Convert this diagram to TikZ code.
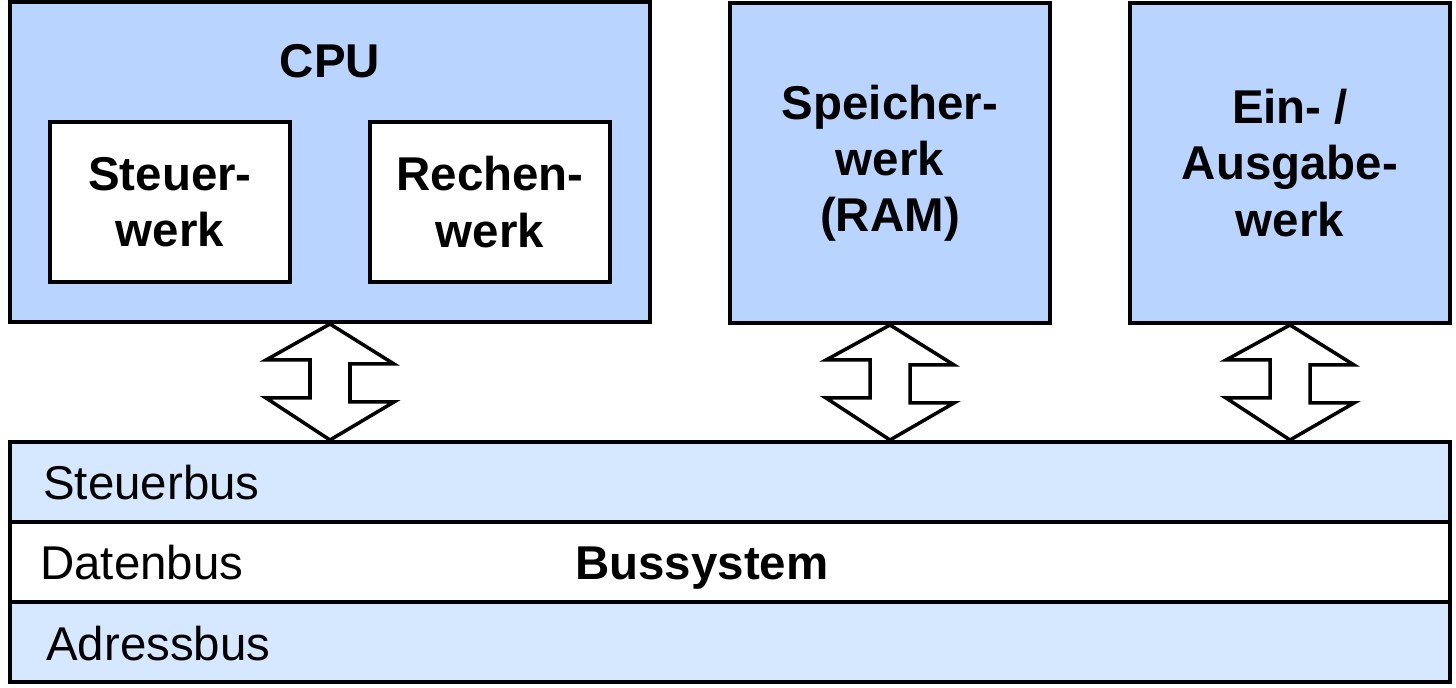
\documentclass[tikz,border=0pt]{standalone}
\usepackage{fontspec}
\setmainfont{Liberation Sans}
\usepackage{xcolor}
\usepackage{tikz}
\usetikzlibrary{positioning,calc}

\definecolor{unitblue}{HTML}{B9D5FF}
\definecolor{busblue}{HTML}{D6E8FF}

\begin{document}
\begin{tikzpicture}[
    x=0.02cm, y=-0.02cm,
    unit/.style={draw, fill=unitblue, line width=2.3pt, minimum width=6.4cm, minimum height=6.4cm, inner sep=0pt, align=center, font=\fontsize{27}{32}\selectfont\bfseries},
    part/.style={draw, fill=white, line width=2.3pt, minimum width=4.8cm, minimum height=3.2cm, inner sep=0pt, align=center, font=\fontsize{27}{32}\selectfont\bfseries},
    lane/.style={draw, line width=2.3pt, minimum width=28.8cm, minimum height=1.6cm, inner sep=0pt},
    lanelabel/.style={anchor=base west, inner sep=0pt, font=\fontsize{27}{32}\selectfont},
    busarr/.style={draw, fill=white, line width=2pt, line join=miter},
]
\useasboundingbox (0,0) rectangle (1456,688);

% Units
\node[unit, minimum width=12.8cm] (cpu) at (330, 162) {};
\node[unit] (ram) at (890, 163) {Speicher-\\werk\\(RAM)};
\node[unit] (io) at (1290, 163) {Ein- /\\Ausgabe-\\werk};
\node[anchor=base, inner sep=0pt, font=\fontsize{27}{32}\selectfont\bfseries] (cputitle) at (330, 78) {CPU};

% CPU parts
\node[part] (sw) at (170, 202) {Steuer-\\werk};
\node[part] (rw) at (490, 202) {Rechen-\\werk};

% Bus lanes
\node[lane, fill=busblue] (steuerbus) at (730, 482) {};
\node[lane, fill=white] (datenbus) at (730, 562) {};
\node[lane, fill=busblue] (adressbus) at (730, 642) {};

% Lane labels
\node[lanelabel] (lsteuer) at (43, 500) {Steuerbus};
\node[lanelabel] (ldaten) at (40, 580) {Datenbus};
\node[lanelabel] (ladress) at (46, 660) {Adressbus};
\node[lanelabel, font=\fontsize{27}{32}\selectfont\bfseries] (lbus) at (575, 580) {Bussystem};

% Double arrows unit <-> bus
\foreach \u in {cpu, ram, io}
  \draw[busarr] (\u.south) -- ++(64,40) -- ++(-44,0) -- ++(0,38) -- ++(44,0)
    -- (\u.south |- steuerbus.north) -- ++(-64,-42) -- ++(44,0) -- ++(0,-38)
    -- ++(-44,0) -- cycle;
\end{tikzpicture}
\end{document}
